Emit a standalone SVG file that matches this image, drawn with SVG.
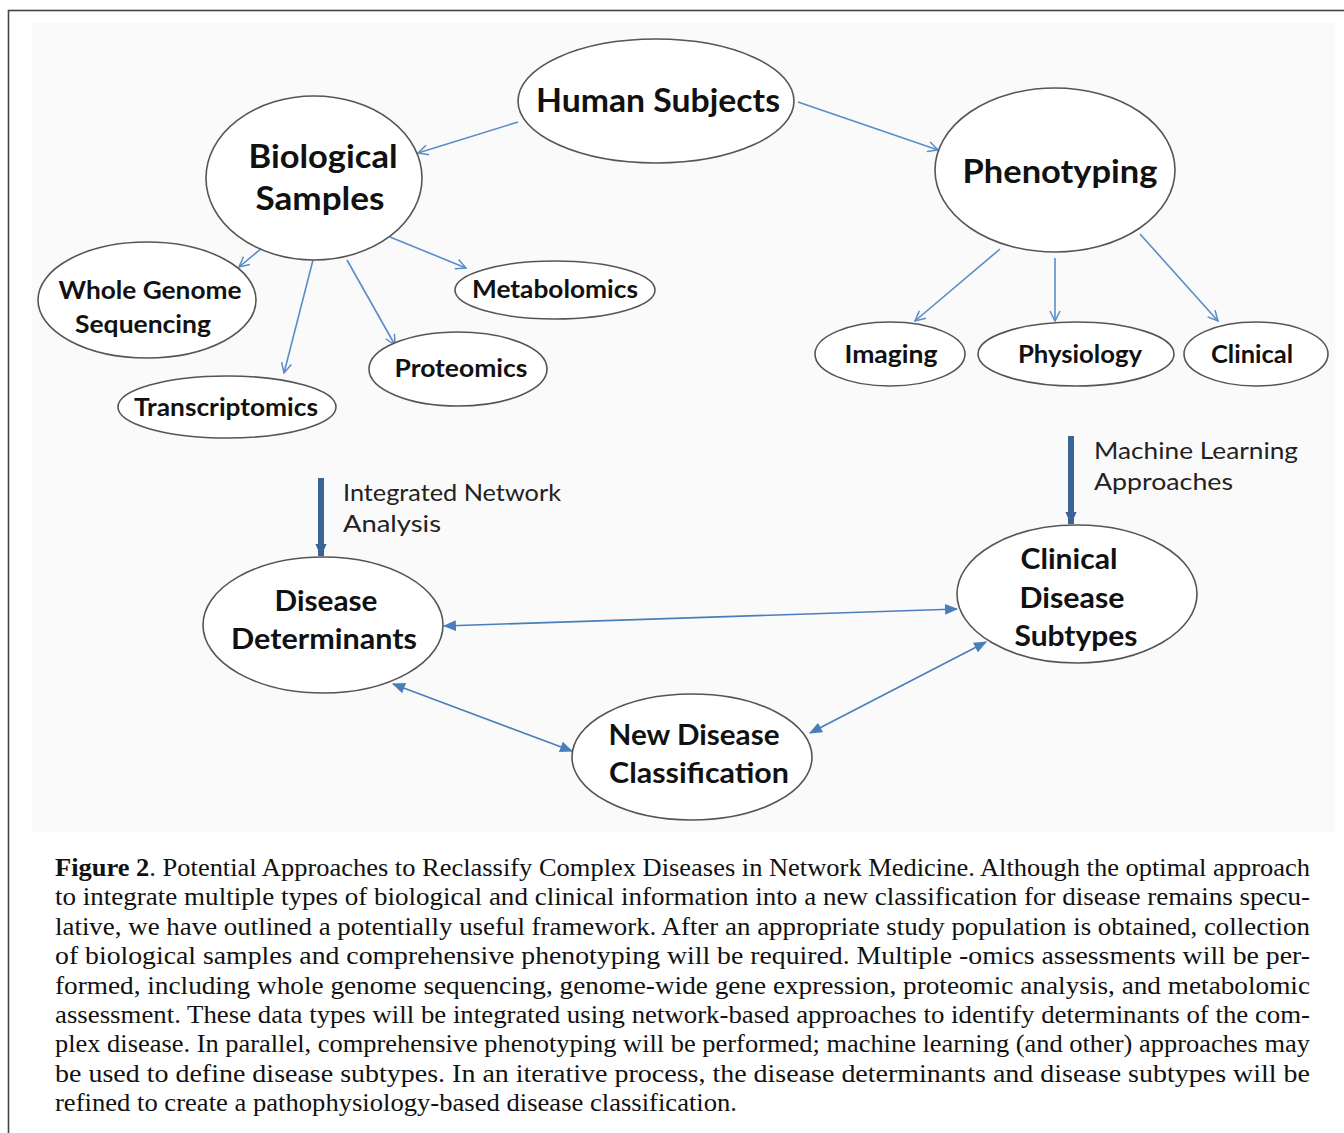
<svg xmlns="http://www.w3.org/2000/svg" width="1344" height="1133" viewBox="0 0 1344 1133">
<defs>
<marker id="open" viewBox="0 0 12 12" refX="11" refY="6" markerWidth="12" markerHeight="12" markerUnits="userSpaceOnUse" orient="auto">
<path d="M1,1 L11,6 L1,11" fill="none" stroke="#5b8cc8" stroke-width="1.5"/>
</marker>
<marker id="tri" viewBox="0 0 12 10" refX="11" refY="5" markerWidth="13" markerHeight="11" markerUnits="userSpaceOnUse" orient="auto-start-reverse">
<path d="M0,0 L12,5 L0,10 Z" fill="#4a7ebb"/>
</marker>
<marker id="thick" viewBox="0 0 14 12" refX="13" refY="6" markerWidth="13" markerHeight="12" markerUnits="userSpaceOnUse" orient="auto">
<path d="M0,0 L14,6 L0,12 Z" fill="#3a6496"/>
</marker>
</defs>
<style>
.node ellipse{fill:#ffffff;stroke:#555555;stroke-width:1.6}
.nt{font-family:Lato,"Liberation Sans",sans-serif;font-weight:700;fill:#111;text-anchor:middle}
.big{font-size:32px}
.med{font-size:28px}
.sm{font-size:24px}
.lbl{font-family:Lato,"Liberation Sans",sans-serif;font-size:24px;fill:#222}
.thin{stroke:#5b8cc8;stroke-width:1.6;fill:none}
.bi{stroke:#4a7ebb;stroke-width:1.6;fill:none}
.fat{stroke:#3a6496;stroke-width:6;fill:none}
.cap{font-family:"Liberation Serif","Times New Roman",serif;font-size:26px;fill:#111}
</style>
<rect x="8.5" y="10.5" width="1400" height="1200" fill="#ffffff" stroke="#444" stroke-width="1.6"/>
<rect x="32" y="23" width="1303" height="809" fill="#fafafa"/>

<g id="connectors">
<line class="thin" x1="518" y1="122" x2="418" y2="153" marker-end="url(#open)"/>
<line class="thin" x1="798" y1="102" x2="938" y2="150" marker-end="url(#open)"/>
<line class="thin" x1="262" y1="248" x2="239" y2="267" marker-end="url(#open)"/>
<line class="thin" x1="313" y1="260" x2="284" y2="373" marker-end="url(#open)"/>
<line class="thin" x1="347" y1="260" x2="395" y2="345" marker-end="url(#open)"/>
<line class="thin" x1="390" y1="237" x2="466" y2="268" marker-end="url(#open)"/>
<line class="thin" x1="1000" y1="249" x2="915" y2="321" marker-end="url(#open)"/>
<line class="thin" x1="1055" y1="258" x2="1055" y2="321" marker-end="url(#open)"/>
<line class="thin" x1="1140" y1="234" x2="1218" y2="321" marker-end="url(#open)"/>
<line class="fat" x1="321" y1="478" x2="321" y2="556" marker-end="url(#thick)"/>
<line class="fat" x1="1071" y1="436" x2="1071" y2="524" marker-end="url(#thick)"/>
<line class="bi" x1="444" y1="626" x2="957" y2="609" marker-start="url(#tri)" marker-end="url(#tri)"/>
<line class="bi" x1="393" y1="684" x2="572" y2="751" marker-start="url(#tri)" marker-end="url(#tri)"/>
<line class="bi" x1="810" y1="733" x2="986" y2="642" marker-start="url(#tri)" marker-end="url(#tri)"/>
</g>

<g id="human-subjects" class="node"><ellipse cx="656" cy="101" rx="138" ry="62"/><text class="nt big" x="658" y="112" textLength="244" lengthAdjust="spacingAndGlyphs">Human Subjects</text></g>
<g id="biological-samples" class="node"><ellipse cx="314" cy="178" rx="108" ry="82"/><text class="nt big" x="323" y="168" textLength="149" lengthAdjust="spacingAndGlyphs">Biological</text><text class="nt big" x="320" y="210" textLength="129" lengthAdjust="spacingAndGlyphs">Samples</text></g>
<g id="phenotyping" class="node"><ellipse cx="1055" cy="170" rx="120" ry="82"/><text class="nt big" x="1060" y="183" textLength="195" lengthAdjust="spacingAndGlyphs">Phenotyping</text></g>
<g id="whole-genome" class="node"><ellipse cx="147" cy="300" rx="109" ry="58"/><text class="nt sm" x="150" y="299" textLength="183" lengthAdjust="spacingAndGlyphs">Whole Genome</text><text class="nt sm" x="143" y="333" textLength="136" lengthAdjust="spacingAndGlyphs">Sequencing</text></g>
<g id="transcriptomics" class="node"><ellipse cx="227" cy="407" rx="109" ry="31"/><text class="nt sm" x="226" y="416" textLength="184" lengthAdjust="spacingAndGlyphs">Transcriptomics</text></g>
<g id="proteomics" class="node"><ellipse cx="458" cy="369" rx="89" ry="37"/><text class="nt sm" x="461" y="377" textLength="133" lengthAdjust="spacingAndGlyphs">Proteomics</text></g>
<g id="metabolomics" class="node"><ellipse cx="555" cy="290" rx="100" ry="29"/><text class="nt sm" x="555" y="298" textLength="166" lengthAdjust="spacingAndGlyphs">Metabolomics</text></g>
<g id="imaging" class="node"><ellipse cx="890" cy="354" rx="75" ry="32"/><text class="nt sm" x="891" y="363" textLength="93" lengthAdjust="spacingAndGlyphs">Imaging</text></g>
<g id="physiology" class="node"><ellipse cx="1076" cy="354" rx="98" ry="32"/><text class="nt sm" x="1080" y="363" textLength="124" lengthAdjust="spacingAndGlyphs">Physiology</text></g>
<g id="clinical" class="node"><ellipse cx="1256" cy="354" rx="72" ry="32"/><text class="nt sm" x="1252" y="363" textLength="82" lengthAdjust="spacingAndGlyphs">Clinical</text></g>
<g id="disease-determinants" class="node"><ellipse cx="323" cy="625" rx="120" ry="68"/><text class="nt med" x="326" y="611" textLength="103" lengthAdjust="spacingAndGlyphs">Disease</text><text class="nt med" x="324" y="649" textLength="186" lengthAdjust="spacingAndGlyphs">Determinants</text></g>
<g id="clinical-disease-subtypes" class="node"><ellipse cx="1077" cy="594" rx="120" ry="69"/><text class="nt med" x="1069" y="569" textLength="97" lengthAdjust="spacingAndGlyphs">Clinical</text><text class="nt med" x="1072" y="608" textLength="105" lengthAdjust="spacingAndGlyphs">Disease</text><text class="nt med" x="1076" y="646" textLength="123" lengthAdjust="spacingAndGlyphs">Subtypes</text></g>
<g id="new-disease-classification" class="node"><ellipse cx="692" cy="757" rx="120" ry="63"/><text class="nt med" x="694" y="745" textLength="171" lengthAdjust="spacingAndGlyphs">New Disease</text><text class="nt med" x="699" y="783" textLength="180" lengthAdjust="spacingAndGlyphs">Classification</text></g>

<g id="labels">
<text class="lbl" x="343" y="501" textLength="218" lengthAdjust="spacingAndGlyphs">Integrated Network</text>
<text class="lbl" x="343" y="532" textLength="98" lengthAdjust="spacingAndGlyphs">Analysis</text>
<text class="lbl" x="1094" y="459" textLength="204" lengthAdjust="spacingAndGlyphs">Machine Learning</text>
<text class="lbl" x="1094" y="490" textLength="139" lengthAdjust="spacingAndGlyphs">Approaches</text>
</g>

<g id="caption">
<text class="cap" x="55" y="876" textLength="1255" lengthAdjust="spacingAndGlyphs"><tspan font-weight="700">Figure 2</tspan>. Potential Approaches to Reclassify Complex Diseases in Network Medicine. Although the optimal approach</text>
<text class="cap" x="55" y="905" textLength="1255" lengthAdjust="spacingAndGlyphs">to integrate multiple types of biological and clinical information into a new classification for disease remains specu-</text>
<text class="cap" x="55" y="935" textLength="1255" lengthAdjust="spacingAndGlyphs">lative, we have outlined a potentially useful framework. After an appropriate study population is obtained, collection</text>
<text class="cap" x="55" y="964" textLength="1255" lengthAdjust="spacingAndGlyphs">of biological samples and comprehensive phenotyping will be required. Multiple -omics assessments will be per-</text>
<text class="cap" x="55" y="994" textLength="1255" lengthAdjust="spacingAndGlyphs">formed, including whole genome sequencing, genome-wide gene expression, proteomic analysis, and metabolomic</text>
<text class="cap" x="55" y="1023" textLength="1255" lengthAdjust="spacingAndGlyphs">assessment. These data types will be integrated using network-based approaches to identify determinants of the com-</text>
<text class="cap" x="55" y="1052" textLength="1255" lengthAdjust="spacingAndGlyphs">plex disease. In parallel, comprehensive phenotyping will be performed; machine learning (and other) approaches may</text>
<text class="cap" x="55" y="1082" textLength="1255" lengthAdjust="spacingAndGlyphs">be used to define disease subtypes. In an iterative process, the disease determinants and disease subtypes will be</text>
<text class="cap" x="55" y="1111" textLength="682" lengthAdjust="spacingAndGlyphs">refined to create a pathophysiology-based disease classification.</text>
</g>
</svg>
